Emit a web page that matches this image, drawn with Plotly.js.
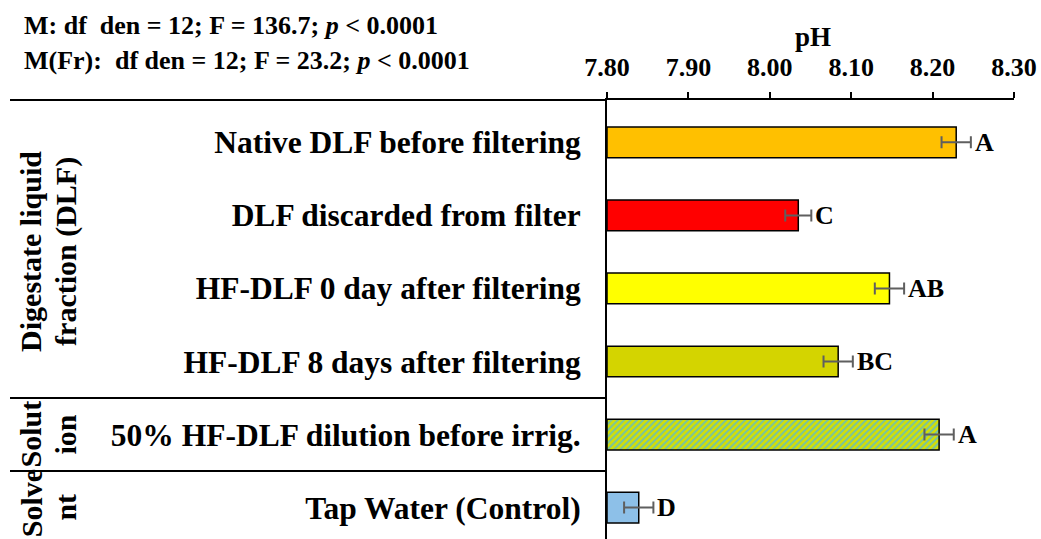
<!DOCTYPE html>
<html>
<head>
<meta charset="utf-8">
<script src="https://cdn.plot.ly/plotly-3.0.1.min.js"></script>
<style>html,body{margin:0;padding:0;background:#fff;}#chart{width:1041px;height:539px;}</style>
</head>
<body>
<div id="chart"></div>
<script>
// ---- data ----
const categories = [
  "Native DLF before filtering",
  "DLF discarded from filter",
  "HF-DLF 0 day after filtering",
  "HF-DLF 8 days after filtering",
  "50% HF-DLF dilution before irrig.",
  "Tap Water (Control)"
];
const phValues = [8.229, 8.035, 8.147, 8.084, 8.208, 7.839];
const phErrors = [0.018, 0.016, 0.018, 0.018, 0.018, 0.018];
const letters = ["A", "C", "AB", "BC", "A", "D"];
const barColors = ["#FFC000", "#FF0000", "#FFFF00", "#D4D400", "#D6E000", "#8DC0E8"];
const hatched = [false, false, false, false, true, false];
const tickValues = [7.8, 7.9, 8.0, 8.1, 8.2, 8.3];
const tickLabels = ["7.80", "7.90", "8.00", "8.10", "8.20", "8.30"];
const groupLabels = [
  {lines: ["Digestate liquid", "fraction (DLF)"], center: [1.5, 1.5]},
  {lines: ["Solut", "ion"], center: [4, 4]},
  {lines: ["Solve", "nt"], center: [4.94, 5]}
];
const groupSeparators = [3.5, 4.5];
const statLines = [
  "M: df  den = 12; F = 136.7; <i>p</i> &lt; 0.0001",
  "M(Fr):  df den = 12; F = 23.2; <i>p</i> &lt; 0.0001"
];

// ---- layout geometry (pixels) ----
const W = 1041, H = 539;
const plotL = 607, plotR = 1014, plotT = 100;
const plotW = plotR - plotL;
const px2paper = x => (x - plotL) / plotW;
const FONT = "Liberation Serif, Times New Roman, serif";

const traces = categories.map((c, i) => {
  const t = {
    type: "bar",
    orientation: "h",
    y: [c],
    x: [phValues[i] - 7.8],
    base: 7.8,
    width: 0.42,
    marker: {
      color: barColors[i],
      line: {color: "#000", width: 1.5}
    },
    error_x: {type: "data", array: [phErrors[i]], visible: true, color: "#5f5f5f", thickness: 2, width: 6},
    hoverinfo: "skip",
    showlegend: false
  };
  if (hatched[i]) {
    t.marker.pattern = {shape: "/", fillmode: "overlay", fgcolor: "#74C2A6", fgopacity: 1, size: 4.5, solidity: 0.45};
  }
  return t;
});

const annotations = [];
phValues.forEach((v, i) => {
  annotations.push({
    xref: "x", yref: "y",
    x: v + phErrors[i], y: categories[i],
    xanchor: "left", yanchor: "middle", xshift: 2,
    text: "<b>" + letters[i] + "</b>", showarrow: false,
    font: {family: FONT, size: 26, color: "#000"}
  });
});
statLines.forEach((t, i) => {
  annotations.push({
    xref: "paper", yref: "paper",
    x: px2paper(22), y: 1 + (plotT - (25 + i * 36)) / (H - plotT),
    xanchor: "left", yanchor: "middle",
    text: "<b>" + t + "</b>", showarrow: false,
    font: {family: FONT, size: 26, color: "#000"}
  });
});
annotations.push({
  xref: "paper", yref: "paper",
  x: px2paper(813), y: 1 + (plotT - 37) / (H - plotT),
  xanchor: "center", yanchor: "middle",
  text: "<b>pH</b>", showarrow: false,
  font: {family: FONT, size: 27, color: "#000"}
});
const lineX = [31, 66];
groupLabels.forEach(g => {
  g.lines.forEach((ln, j) => {
    annotations.push({
      xref: "paper", yref: "y",
      x: px2paper(lineX[j]), y: g.center[j],
      xanchor: "center", yanchor: "middle",
      textangle: -90,
      text: "<b>" + ln + "</b>", showarrow: false,
      font: {family: FONT, size: 30, color: "#000"}
    });
  });
});

const shapes = [{
  type: "line", xref: "paper", yref: "paper",
  x0: px2paper(10), x1: 0, y0: 1, y1: 1,
  line: {color: "#000", width: 2}
}];
groupSeparators.forEach(s => {
  shapes.push({
    type: "line", xref: "paper", yref: "y",
    x0: px2paper(10), x1: 0, y0: s, y1: s,
    line: {color: "#000", width: 2}
  });
});

const layout = {
  width: W, height: H,
  margin: {l: plotL, r: W - plotR, t: plotT, b: 0, pad: 0},
  paper_bgcolor: "#fff", plot_bgcolor: "#fff",
  font: {family: FONT, color: "#000"},
  barmode: "overlay",
  xaxis: {
    side: "top",
    range: [7.8, 8.3],
    tickvals: tickValues, ticktext: tickLabels,
    ticks: "outside", ticklen: 6, tickwidth: 2, tickcolor: "#000",
    showline: true, linecolor: "#000", linewidth: 2,
    showgrid: false, zeroline: false,
    ticklabelstandoff: 6,
    tickfont: {family: FONT, size: 26, color: "#000", weight: "bold"}
  },
  yaxis: {
    type: "category",
    categoryorder: "array", categoryarray: categories,
    range: [5.43, -0.58],
    autorange: false,
    showline: true, linecolor: "#000", linewidth: 2,
    ticks: "", showgrid: false, zeroline: false,
    ticklabelstandoff: 18,
    tickfont: {family: FONT, size: 31.5, color: "#000", weight: "bold"}
  },
  annotations: annotations,
  shapes: shapes
};

Plotly.newPlot("chart", traces, layout, {displayModeBar: false, staticPlot: true});
</script>
</body>
</html>
